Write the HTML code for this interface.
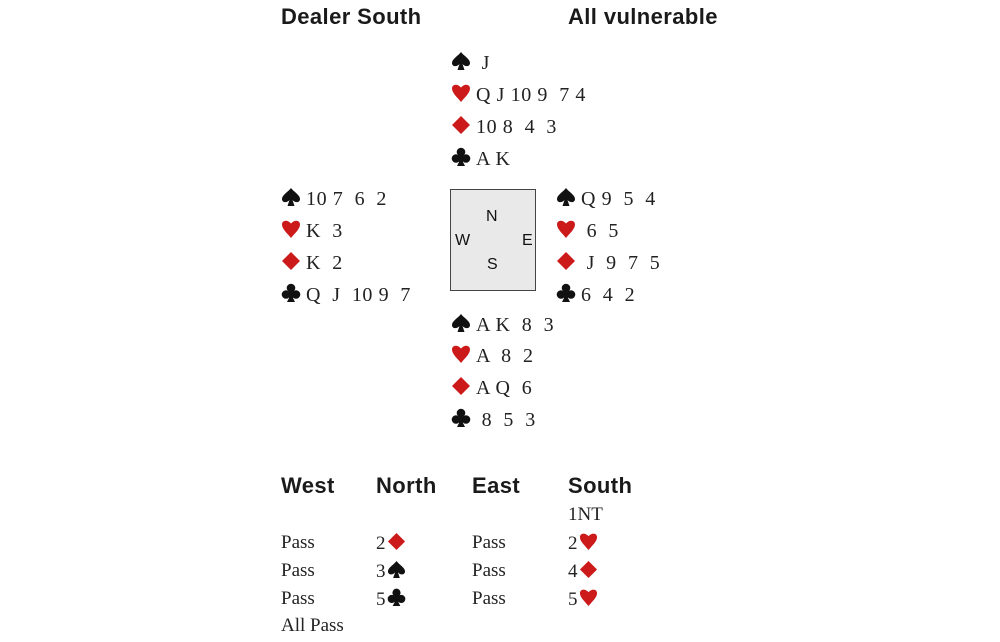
<!DOCTYPE html>
<html><head><meta charset="utf-8"><style>
body{margin:0;width:1000px;height:642px;background:#fff;position:relative;overflow:hidden;font-family:"Liberation Serif",serif;color:#222}
.h{position:absolute;font-family:"Liberation Sans",sans-serif;font-weight:bold;font-size:22px;color:#1a1a1a;line-height:24px;letter-spacing:0.4px}
.l{position:absolute;font-size:20px;line-height:22px;white-space:pre;height:22px;letter-spacing:0.6px}
.l svg{display:inline-block;width:20px;height:20px;vertical-align:-2px;margin-right:5px}
.a{position:absolute;font-size:19px;line-height:22px;white-space:pre}
.a svg{display:inline-block;width:19px;height:19px;vertical-align:-2px;margin-left:1px}
.box{position:absolute;left:450px;top:189px;width:84px;height:100px;background:#e9e9e9;border:1.5px solid #444}
.c{position:absolute;font-family:"Liberation Sans",sans-serif;font-size:16px;color:#111;line-height:18px}
</style></head><body>
<svg width="0" height="0" style="position:absolute">
<defs>
<symbol id="sp" viewBox="0 0 20 20"><path d="M10 1 C7 5 1 8 1 12 C1 15.5 5.5 16.5 8.5 13 L6.5 19 H13.5 L11.5 13 C14.5 16.5 19 15.5 19 12 C19 8 13 5 10 1Z" fill="#111"/></symbol>
<symbol id="he" viewBox="0 0 20 20"><path d="M10 19 C6 14 1 10 1 5.5 C1 1.5 6 0 10 4.5 C14 0 19 1.5 19 5.5 C19 10 14 14 10 19Z" fill="#cc1a1a"/></symbol>
<symbol id="di" viewBox="0 0 20 20"><path d="M10 1 L19 10 L10 19 L1 10Z" fill="#cc1a1a"/></symbol>
<symbol id="cl" viewBox="0 0 20 20"><g fill="#111"><circle cx="10" cy="5" r="4.3"/><circle cx="5" cy="11.5" r="4.3"/><circle cx="15" cy="11.5" r="4.3"/><path d="M8.5 8 H11.5 L12 15 L14 19 H6 L8 15Z"/></g></symbol>
</defs></svg>

<div class="h" style="left:281px;top:5px">Dealer South</div>
<div class="h" style="left:568px;top:5px">All vulnerable</div>

<div class="l" style="left:451px;top:51px"><svg><use href="#sp"/></svg> J</div>
<div class="l" style="left:451px;top:83px"><svg><use href="#he"/></svg>Q J 10 9  7 4</div>
<div class="l" style="left:451px;top:115px"><svg><use href="#di"/></svg>10 8  4  3</div>
<div class="l" style="left:451px;top:147px"><svg><use href="#cl"/></svg>A K</div>

<div class="l" style="left:281px;top:187px"><svg><use href="#sp"/></svg>10 7  6  2</div>
<div class="l" style="left:281px;top:219px"><svg><use href="#he"/></svg>K  3</div>
<div class="l" style="left:281px;top:251px"><svg><use href="#di"/></svg>K  2</div>
<div class="l" style="left:281px;top:283px"><svg><use href="#cl"/></svg>Q  J  10 9  7</div>

<div class="box"></div>
<div class="c" style="left:486px;top:208px">N</div>
<div class="c" style="left:455px;top:232px">W</div>
<div class="c" style="left:522px;top:232px">E</div>
<div class="c" style="left:487px;top:256px">S</div>

<div class="l" style="left:556px;top:187px"><svg><use href="#sp"/></svg>Q 9  5  4</div>
<div class="l" style="left:556px;top:219px"><svg><use href="#he"/></svg> 6  5</div>
<div class="l" style="left:556px;top:251px"><svg><use href="#di"/></svg> J  9  7  5</div>
<div class="l" style="left:556px;top:283px"><svg><use href="#cl"/></svg>6  4  2</div>

<div class="l" style="left:451px;top:313px"><svg><use href="#sp"/></svg>A K  8  3</div>
<div class="l" style="left:451px;top:344px"><svg><use href="#he"/></svg>A  8  2</div>
<div class="l" style="left:451px;top:376px"><svg><use href="#di"/></svg>A Q  6</div>
<div class="l" style="left:451px;top:408px"><svg><use href="#cl"/></svg> 8  5  3</div>

<div class="h" style="left:281px;top:474px">West</div>
<div class="h" style="left:376px;top:474px">North</div>
<div class="h" style="left:472px;top:474px">East</div>
<div class="h" style="left:568px;top:474px">South</div>

<div class="a" style="left:568px;top:504px">1NT</div>
<div class="a" style="left:281px;top:532px">Pass</div>
<div class="a" style="left:376px;top:532px">2<svg><use href="#di"/></svg></div>
<div class="a" style="left:472px;top:532px">Pass</div>
<div class="a" style="left:568px;top:532px">2<svg><use href="#he"/></svg></div>
<div class="a" style="left:281px;top:560px">Pass</div>
<div class="a" style="left:376px;top:560px">3<svg><use href="#sp"/></svg></div>
<div class="a" style="left:472px;top:560px">Pass</div>
<div class="a" style="left:568px;top:560px">4<svg><use href="#di"/></svg></div>
<div class="a" style="left:281px;top:588px">Pass</div>
<div class="a" style="left:376px;top:588px">5<svg><use href="#cl"/></svg></div>
<div class="a" style="left:472px;top:588px">Pass</div>
<div class="a" style="left:568px;top:588px">5<svg><use href="#he"/></svg></div>
<div class="a" style="left:281px;top:615px">All Pass</div>
</body></html>
